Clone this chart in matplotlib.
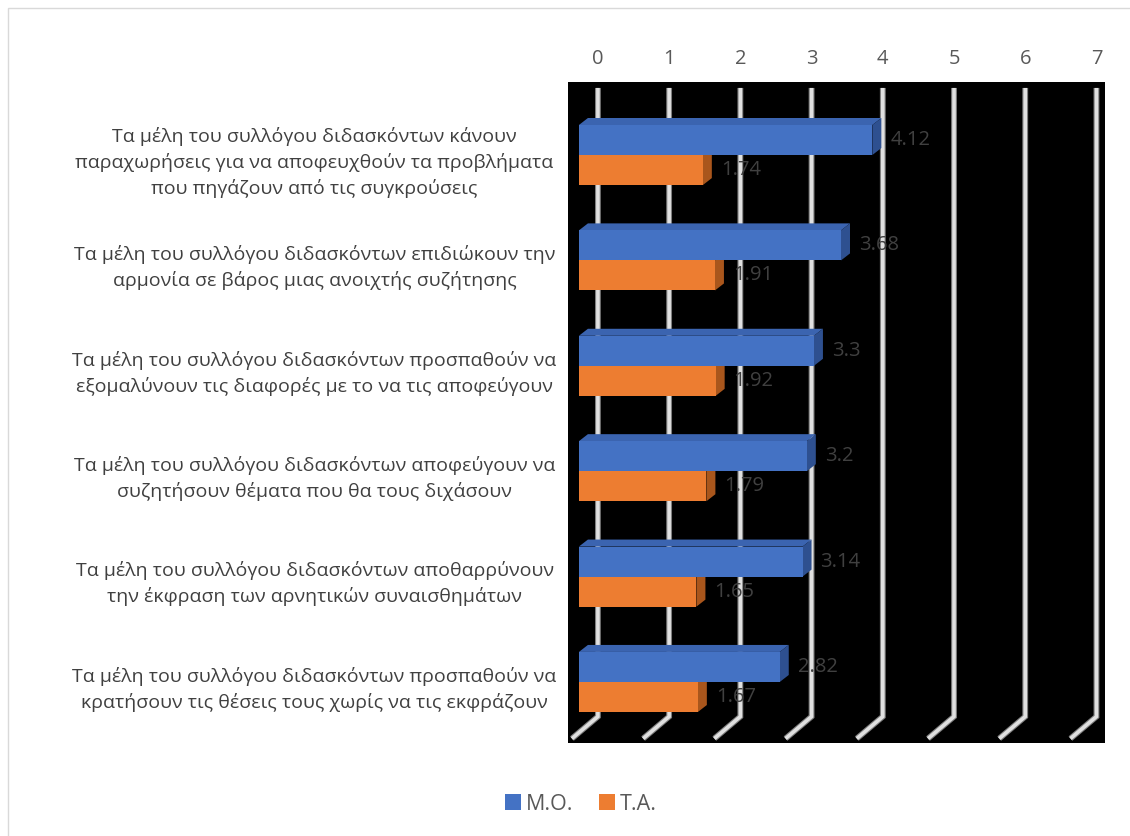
import matplotlib
matplotlib.use('Agg')
import matplotlib.pyplot as plt
from matplotlib.patches import Polygon, Patch, Rectangle
from matplotlib.transforms import ScaledTranslation, blended_transform_factory, IdentityTransform

plt.rcParams['font.family'] = ['Open Sans', 'DejaVu Sans']

categories = [
    'Τα μέλη του συλλόγου διδασκόντων κάνουν\nπαραχωρήσεις για να αποφευχθούν τα προβλήματα\nπου πηγάζουν από τις συγκρούσεις',
    'Τα μέλη του συλλόγου διδασκόντων επιδιώκουν την\nαρμονία σε βάρος μιας ανοιχτής συζήτησης',
    'Τα μέλη του συλλόγου διδασκόντων προσπαθούν να\nεξομαλύνουν τις διαφορές με το να τις αποφεύγουν',
    'Τα μέλη του συλλόγου διδασκόντων αποφεύγουν να\nσυζητήσουν θέματα που θα τους διχάσουν',
    'Τα μέλη του συλλόγου διδασκόντων αποθαρρύνουν\nτην έκφραση των αρνητικών συναισθημάτων',
    'Τα μέλη του συλλόγου διδασκόντων προσπαθούν να\nκρατήσουν τις θέσεις τους χωρίς να τις εκφράζουν',
]
mo_values = [4.12, 3.68, 3.3, 3.2, 3.14, 2.82]
ta_values = [1.74, 1.91, 1.92, 1.79, 1.65, 1.67]
series_names = ['Μ.Ο.', 'Τ.Α.']
x_ticks = [0, 1, 2, 3, 4, 5, 6, 7]

BLUE, BLUE_TOP, BLUE_SIDE = '#4472C4', '#3B64B0', '#2E5090'
ORANGE, ORANGE_TOP, ORANGE_SIDE = '#ED7D31', '#D06A25', '#A9561C'

DPI = 100
fig = plt.figure(figsize=(11.3, 8.36), dpi=DPI)
W, H = 1130, 836

# chart border
fig.patches.append(Rectangle((8 / W, -0.01), 1.0, 1 - 8 / H + 0.01, transform=fig.transFigure,
                             fill=False, edgecolor='#d9d9d9', linewidth=1))

ax = fig.add_axes([568 / W, (H - 743) / H, 537 / W, 661 / H])
ax.set_facecolor('black')
for s in ax.spines.values():
    s.set_visible(False)

ax.set_xlim(-0.42, 7.12)
ax.set_ylim(5.579, -0.693)
ax.xaxis.tick_top()
ax.set_xticks(x_ticks)
ax.tick_params(axis='x', length=0, pad=9, labelsize=14.5, labelcolor='#595959')
ax.set_yticks([])

# back-wall gridlines with floor segment
blend = blended_transform_factory(ax.transData, ax.transAxes)
for t in x_ticks:
    top = blend.transform((t, 0.991))
    mid = blend.transform((t, 0.04))
    bot = (mid[0] - 26, mid[1] - 22)
    xs = [top[0], mid[0], bot[0]]
    ys = [top[1], mid[1], bot[1]]
    ax.plot(xs, ys, transform=IdentityTransform(), color='#7f7f7f', lw=4.2, zorder=1,
            solid_capstyle='butt', solid_joinstyle='miter')
    ax.plot(xs, ys, transform=IdentityTransform(), color='#e0e0e0', lw=2.6, zorder=1.1,
            solid_capstyle='butt', solid_joinstyle='miter')

h = 0.285
shift = ScaledTranslation(-19 / DPI, 0, fig.dpi_scale_trans)
bar_trans = ax.transData + shift
dx, dy = 9, 7

def draw_3d(values, offsets, front, topc, side):
    for i, (v, off) in enumerate(zip(values, offsets)):
        y0 = i + off
        ax.barh(y0 + h / 2, v, height=h, color=front, transform=bar_trans, zorder=3)
        (xl, yb), (xr, yt) = bar_trans.transform([(0, y0 + h), (v, y0)])
        top = [(xl, yt), (xr, yt), (xr + dx, yt + dy), (xl + dx, yt + dy)]
        sd = [(xr, yb), (xr, yt), (xr + dx, yt + dy), (xr + dx, yb + dy)]
        ax.add_patch(Polygon(top, closed=True, facecolor=topc, edgecolor='none',
                             transform=IdentityTransform(), zorder=2.5))
        ax.add_patch(Polygon(sd, closed=True, facecolor=side, edgecolor='none',
                             transform=IdentityTransform(), zorder=2.6))
        ax.annotate(f'{v:g}', xy=(v, y0 + h / 2), xycoords=bar_trans,
                    xytext=(dx + 9, 0), textcoords='offset pixels',
                    ha='left', va='center', fontsize=14.5, color='#404040', zorder=5)

draw_3d(ta_values, [0] * 6, ORANGE, ORANGE_TOP, ORANGE_SIDE)
draw_3d(mo_values, [-h] * 6, BLUE, BLUE_TOP, BLUE_SIDE)

# category labels
lab_trans = blended_transform_factory(ax.transAxes, ax.transData)
for i, c in enumerate(categories):
    ax.text(-0.472, i + 0.07, c, transform=lab_trans, ha='center', va='center',
            fontsize=14.0, color='#404040', linespacing=1.47)

handles = [Patch(facecolor=BLUE, label=series_names[0]),
           Patch(facecolor=ORANGE, label=series_names[1])]
fig.legend(handles=handles, loc='center', bbox_to_anchor=(0.514, (H - 804) / H), ncol=2,
           frameon=False, fontsize=15.5, labelcolor='#595959', handlelength=0.75,
           handleheight=0.75, handletextpad=0.2, columnspacing=1.2)

fig.savefig('out.png', dpi=DPI)
